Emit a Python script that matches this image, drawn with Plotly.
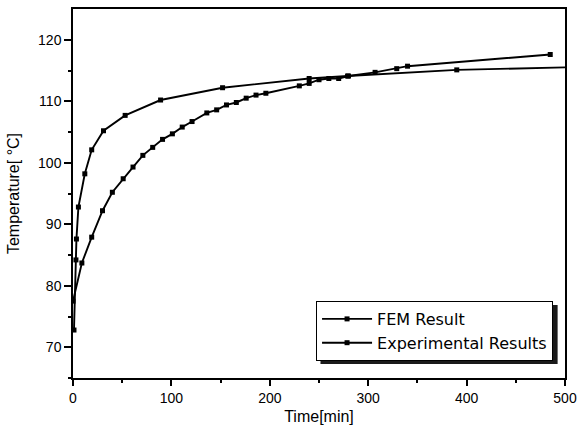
import plotly.graph_objects as go

# FEM result (regular ~10 min spacing)
fem_time = [0, 9, 19, 30, 40, 51, 61, 71, 81, 91, 101, 111, 121, 136, 146, 156, 166,
            176, 186, 196, 230, 240, 250, 260, 270, 280, 307, 329, 340, 485]
fem_temp = [77.5, 83.7, 87.9, 92.2, 95.2, 97.4, 99.3, 101.2, 102.5, 103.8, 104.7, 105.8,
            106.7, 108.1, 108.6, 109.4, 109.8, 110.5, 111.0, 111.3, 112.5, 112.9, 113.5,
            113.7, 113.7, 114.1, 114.7, 115.3, 115.7, 117.6]

# Experimental results (markers)
exp_time = [1, 3, 3.5, 5.5, 12, 19, 31, 53, 89, 152, 240, 279, 390]
exp_temp = [72.8, 84.2, 87.6, 92.8, 98.2, 102.1, 105.2, 107.7, 110.2, 112.2, 113.7,
            114.1, 115.1]
# experimental curve continues (line only) to the end of the axis
exp_tail_time = [390, 500]
exp_tail_temp = [115.1, 115.5]

x_ticks = [0, 100, 200, 300, 400, 500]
x_minor = [50, 150, 250, 350, 450]
y_ticks = [70, 80, 90, 100, 110, 120]
y_minor = [65, 75, 85, 95, 105, 115]

FONT = "Liberation Sans, Arial, sans-serif"
LEG_FONT = "DejaVu Sans, Liberation Sans, sans-serif"

fig = go.Figure()
fig.add_trace(go.Scatter(
    x=exp_tail_time, y=exp_tail_temp, mode="lines", showlegend=False,
    line=dict(color="black", width=1.9), hoverinfo="skip",
))
fig.add_trace(go.Scatter(
    x=fem_time, y=fem_temp, mode="lines+markers", name="FEM Result",
    line=dict(color="black", width=1.9),
    marker=dict(symbol="square", size=5, color="black"),
))
fig.add_trace(go.Scatter(
    x=exp_time, y=exp_temp, mode="lines+markers", name="Experimental Results",
    line=dict(color="black", width=1.9),
    marker=dict(symbol="square", size=5, color="black"),
))

fig.update_layout(
    width=577, height=435,
    margin=dict(l=73, r=12, t=9, b=57, pad=0),
    paper_bgcolor="white", plot_bgcolor="white",
    font=dict(family=FONT, size=14, color="black"),
    showlegend=True,
    legend=dict(
        x=0.494, y=0.2087, xanchor="left", yanchor="top",
        bgcolor="white", bordercolor="black", borderwidth=1,
        font=dict(family=LEG_FONT, size=16, color="black"),
        tracegroupgap=0, itemwidth=50,
    ),
)
fig.update_xaxes(
    range=[0, 500], tickvals=x_ticks, ticks="outside", ticklen=6, tickwidth=1.5,
    tickcolor="black", ticklabeloverflow="allow",
    showline=True, linecolor="black", linewidth=1.5, mirror=True,
    showgrid=False, zeroline=False, automargin=False,
    minor=dict(tickvals=x_minor, ticks="outside", ticklen=3, tickcolor="black", tickwidth=1.5),
    title=dict(text="Time[min]", standoff=6, font=dict(family=FONT, size=16)),
)
fig.update_yaxes(
    range=[65, 125], tickvals=y_ticks, ticks="outside", ticklen=7, tickwidth=1.5,
    tickcolor="black", ticklabeloverflow="allow",
    showline=True, linecolor="black", linewidth=1.5, mirror=True,
    showgrid=False, zeroline=False, automargin=False,
    minor=dict(tickvals=y_minor, ticks="outside", ticklen=3, tickcolor="black", tickwidth=1.5),
    title=dict(text="Temperature[ °C]", standoff=14, font=dict(family=FONT, size=16)),
)

# legend drop shadow (right and bottom)
fig.add_shape(type="rect", xref="paper", yref="paper",
              x0=0.503, x1=0.985, y0=0.038, y1=0.198,
              fillcolor="#1a1a1a", line=dict(width=0), layer="above")

fig.write_html("out.html", config={"displayModeBar": False},
               post_script="document.body.style.margin='0';")
